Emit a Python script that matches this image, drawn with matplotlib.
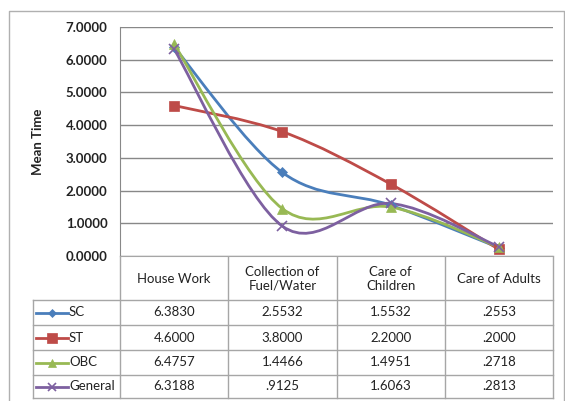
import matplotlib.pyplot as plt
from matplotlib.path import Path
from matplotlib.patches import PathPatch
import numpy as np

plt.rcParams['font.family'] = ['Lato', 'DejaVu Sans']

# Mean time per activity for each social group
categories = ["House Work", "Collection of\nFuel/Water", "Care of\nChildren", "Care of Adults"]
groups = ["SC", "ST", "OBC", "General"]
sc = [6.3830, 2.5532, 1.5532, 0.2553]
st = [4.6000, 3.8000, 2.2000, 0.2000]
obc = [6.4757, 1.4466, 1.4951, 0.2718]
general = [6.3188, 0.9125, 1.6063, 0.2813]
table_text = [
    ["6.3830", "2.5532", "1.5532", ".2553"],
    ["4.6000", "3.8000", "2.2000", ".2000"],
    ["6.4757", "1.4466", "1.4951", ".2718"],
    ["6.3188", ".9125", "1.6063", ".2813"],
]

colors = ["#4a7ebb", "#be4b48", "#98b954", "#7d60a0"]
markers = ["D", "s", "^", "x"]
msizes = [5.5, 7.5, 7, 7]

W, H = 565, 401
fig = plt.figure(figsize=(W / 100, H / 100), dpi=100)

# background axes in pixel units for the frame and data table
bg = fig.add_axes([0, 0, 1, 1])
bg.set_xlim(0, W)
bg.set_ylim(H, 0)
bg.axis("off")

left, right, top, zero = 120, 553, 27, 256
ax = fig.add_axes([left / W, 1 - zero / H, (right - left) / W, (zero - top) / H])
ax.set_xlim(-0.5, 3.5)
ax.set_ylim(0, 7)
ax.set_yticks(range(8))
ax.set_yticklabels(["%.4f" % v for v in range(8)], fontsize=9.5,
                   fontweight="bold", color="#222222")
ax.tick_params(axis="y", length=0, pad=9)
ax.set_xticks([])
ax.grid(axis="y", color="#888888", linewidth=1)
ax.set_axisbelow(True)
for s in ["top", "right"]:
    ax.spines[s].set_visible(False)
ax.spines["left"].set_color("#888888")
ax.spines["bottom"].set_color("#a6a6a6")
ax.set_ylabel("Mean Time", fontsize=9.5, fontweight="bold", color="#222222")
ax.yaxis.set_label_coords(-0.175, 0.5)


def smooth_path(xs, ys):
    # Catmull-Rom style Bezier, same as spreadsheet smoothed lines
    pts = np.column_stack([xs, ys]).astype(float)
    n = len(pts)
    verts = [pts[0]]
    codes = [Path.MOVETO]
    for i in range(n - 1):
        prev = pts[i - 1] if i > 0 else pts[i]
        nxt = pts[i + 2] if i + 2 < n else pts[i + 1]
        c1 = pts[i] + (pts[i + 1] - prev) / 6
        c2 = pts[i + 1] - (nxt - pts[i]) / 6
        verts += [c1, c2, pts[i + 1]]
        codes += [Path.CURVE4] * 3
    return Path(verts, codes)


xs = np.arange(len(categories))
for vals, c, m, ms in zip([sc, st, obc, general], colors, markers, msizes):
    ax.add_patch(PathPatch(smooth_path(xs, vals), fill=False, edgecolor=c,
                           linewidth=2, capstyle="round", zorder=3))
    ax.plot(xs, vals, linestyle="none", marker=m, markersize=ms, color=c,
            markeredgewidth=1.2 if m == "x" else 0.5, zorder=4)

# outer chart frame
bg.plot([9, 9, 564, 564], [H, 11, 11, H], color="#b0b0b0", linewidth=1)

# data table
lc = "#a6a6a6"
col_x = [left + i * (right - left) / 4 for i in range(5)]
row_y = [zero, 300, 325, 350, 375, 398]
leg_x = 33
for x in col_x:
    bg.plot([x, x], [zero, row_y[-1]], color=lc, linewidth=1)
bg.plot([leg_x, leg_x], [row_y[1], row_y[-1]], color=lc, linewidth=1)
for y in row_y[1:]:
    bg.plot([leg_x, right], [y, y], color=lc, linewidth=1)

for j, cat in enumerate(categories):
    cx = (col_x[j] + col_x[j + 1]) / 2
    bg.text(cx, (row_y[0] + row_y[1]) / 2 + 1, cat, ha="center", va="center",
            fontsize=9.5, color="#222222", linespacing=1.1)

for i, g in enumerate(groups):
    cy = (row_y[i + 1] + row_y[i + 2]) / 2
    bg.plot([36, 68], [cy, cy], color=colors[i], linewidth=2)
    bg.plot([52], [cy], marker=markers[i], markersize=msizes[i] - 1,
            color=colors[i], markeredgewidth=1.2 if markers[i] == "x" else 0.5)
    bg.text(69, cy, g, ha="left", va="center", fontsize=9.5, color="#222222")
    for j in range(4):
        cx = (col_x[j] + col_x[j + 1]) / 2
        bg.text(cx, cy, table_text[i][j], ha="center", va="center",
                fontsize=9.5, color="#222222")

fig.savefig("out.png", dpi=100)
